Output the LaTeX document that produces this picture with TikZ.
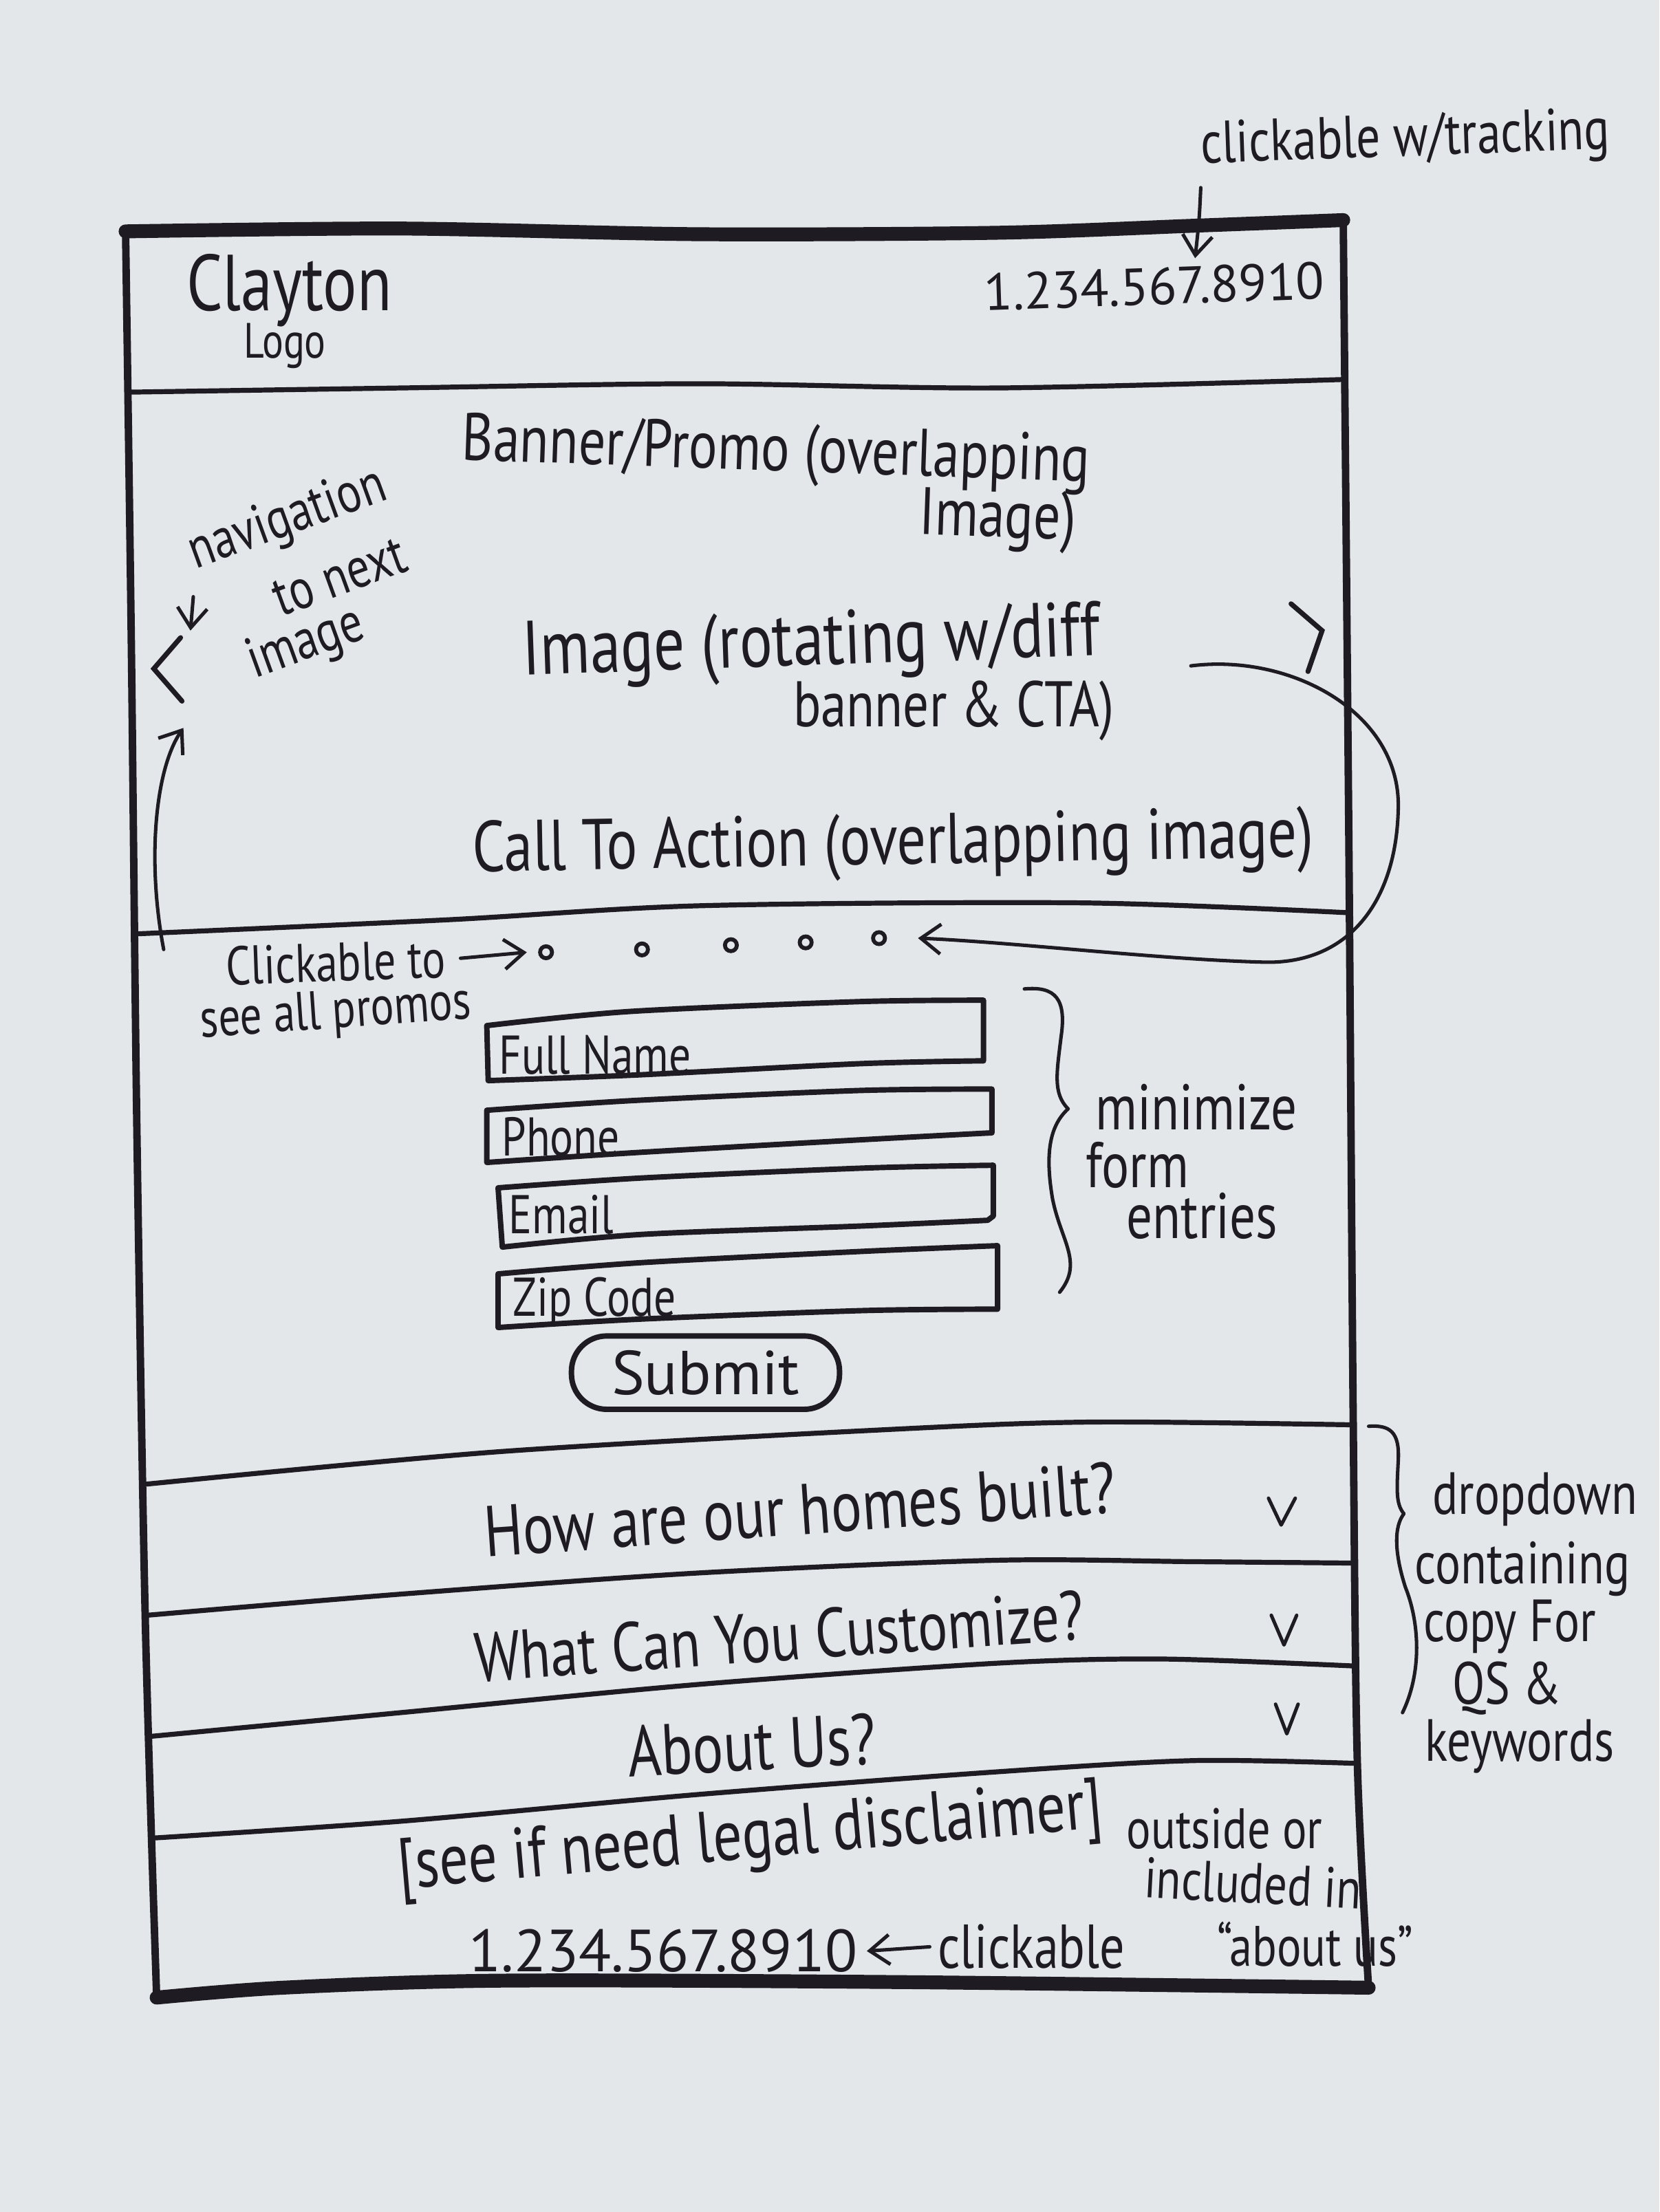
\documentclass[tikz,border=0pt]{standalone}
\usepackage{fontspec}
\setmainfont{PT Sans}[FakeStretch=0.8]
\newfontfamily\digitfont{PT Sans}
\usetikzlibrary{arrows.meta}
\definecolor{paper}{RGB}{227,231,234}
\definecolor{ink}{RGB}{30,28,34}
\newcommand\fs[1]{\fontsize{#1}{#1}\selectfont}
\tikzset{
  wall/.style={draw=ink, line width=1.5pt, line cap=round, line join=round},
  heavy/.style={draw=ink, line width=2.8pt, line cap=round},
  divider/.style={draw=ink, line width=1pt, line cap=round},
  pen/.style={draw=ink, line width=0.7pt, line cap=round, line join=round},
  field/.style={draw=ink, line width=1.1pt, line cap=round, line join=round},
  lbl/.style={text=ink, inner sep=0pt},
  barb/.style={-{Straight Barb[length=4pt,width=6pt]}},
  promo/.style={circle, draw=ink, line width=0.8pt, minimum size=2.4pt, inner sep=0pt},
}
\begin{document}
\begin{tikzpicture}[x=0.1mm,y=-0.1mm]
\fill[paper] (0,0) rectangle (1176,1568);
\useasboundingbox (0,0) rectangle (1176,1568);

% ---- phone outline ----
\draw[wall] plot[smooth] coordinates {(89,164) (93,450) (97,800) (103,1150) (111,1415)};
\draw[wall] plot[smooth] coordinates {(952,156) (956,600) (959,1000) (962,1250) (970,1410)};
\draw[heavy] plot[smooth] coordinates {(89,164) (284,162) (495,166) (706,165) (846,160) (952,156)};
\draw[heavy] plot[smooth] coordinates {(111,1416) (200,1409) (354,1404) (636,1405) (970,1409)};

% ---- header ----
\draw[divider] plot[smooth] coordinates {(90,278) (284,275) (495,272) (706,275) (952,269)};
\node[lbl, font=\fs{16}] (brand) at (205,206) {Clayton};
\node[lbl, font=\fs{10}] (brandsub) at (202,245) {Logo};
\node[lbl, font=\digitfont\fs{10.5}, rotate=2] (phonetop) at (818,203) {1.234.567.8910};
\node[lbl, font=\fs{12}, rotate=2] (track) at (996,100) {clickable w/tracking};
\coordinate (trackfoot) at (851,133);
\coordinate (phonehead) at (847,183);
\draw[pen, barb] (trackfoot) .. controls (850,155) .. (phonehead);

% ---- hero area ----
\node[lbl, font=\fs{13.5}, rotate=-2] (banner) at (550,322) {Banner/Promo (overlapping};
\node[lbl, font=\fs{13.5}, rotate=-2] (bannerend) at (707,369) {Image)};
\node[lbl, font=\fs{11.5}, rotate=20] (nav1) at (204,369) {navigation};
\node[lbl, font=\fs{11.5}, rotate=20] (nav2) at (241,409) {to next};
\node[lbl, font=\fs{11.5}, rotate=20] (nav3) at (217,457) {image};
\coordinate (navtail) at (137,423);
\coordinate (navhead) at (135,447);
\draw[pen, barb] (navtail) -- (navhead);
\draw[divider] (128,452) -- (109,474) -- (129,497);
\draw[divider] (915,428) -- (937,447) -- (927,476);
\node[lbl, font=\fs{15.5}, rotate=2] (hero) at (575,458) {Image (rotating w/diff};
\node[lbl, font=\fs{13}] (herosub) at (676,504) {banner \& CTA)};
\node[lbl, font=\fs{14.5}, rotate=1] (cta) at (633,600) {Call To Action (overlapping image)};
\draw[divider] plot[smooth] coordinates {(96,662) (317,652) (497,642) (767,640) (956,647)};

% ---- promo pager ----
\node[promo] (p1) at (387,675) {};
\node[promo] (p2) at (455,673) {};
\node[promo] (p3) at (518,670) {};
\node[promo] (p4) at (571,668) {};
\node[promo] (p5) at (623,665) {};
\node[lbl, font=\fs{11}, rotate=2] (clk) at (238,682) {Clickable to};
\node[lbl, font=\fs{11}, rotate=4] (promos) at (238,719) {see all promos};
\draw[pen, barb] ([xshift=1mm]clk.east) -- ([xshift=-0.8mm]p1.west);
\coordinate (pagerfoot) at (116,673);
\coordinate (navchevron) at (130,516);
\draw[pen, barb] (pagerfoot) .. controls (104,610) and (110,545) .. (navchevron);
\coordinate (loopstart) at (844,472);
\draw[pen, barb] (loopstart) .. controls (915,463) and (992,505) .. (991,572)
  .. controls (990,640) and (955,684) .. (895,682)
  .. controls (820,680) and (720,668) .. ([xshift=2.2mm]p5.east);

% ---- lead form ----
\draw[field] plot[smooth] coordinates {(345,727) (446,717) (609,710) (697,709)} -- (697,752)
  -- plot[smooth] coordinates {(694,752) (609,754) (451,762) (346,766)} -- cycle;
\draw[field] plot[smooth] coordinates {(345,787) (451,780) (609,773) (703,772)} -- (703,803)
  -- plot[smooth] coordinates {(703,803) (609,808) (451,817) (345,824)} -- cycle;
\draw[field] plot[smooth] coordinates {(353,842) (455,835) (612,828) (704,826)} -- (704,862)
  -- plot[smooth] coordinates {(700,865) (612,869) (455,875) (356,884)} -- cycle;
\draw[field] plot[smooth] coordinates {(353,903) (455,895) (612,887) (707,883)} -- (707,928)
  -- plot[smooth] coordinates {(707,928) (612,929) (455,935) (353,941)} -- cycle;
\node[lbl, font=\fs{11}, anchor=west] (fname) at (353,748) {Full Name};
\node[lbl, font=\fs{11}, anchor=west] (fphone) at (355,806) {Phone};
\node[lbl, font=\fs{11}, anchor=west] (femail) at (360,861) {Email};
\node[lbl, font=\fs{11}, anchor=west] (fzip) at (363,923) {Zip Code};
\node[draw=ink, line width=1.1pt, rounded corners=2.5mm, minimum width=19mm,
      minimum height=5.2mm, inner sep=0pt, text=ink, font=\digitfont\fs{12.5}] (submit) at (500,973) {Submit};
\draw[pen] (726,701) .. controls (748,699) and (756,708) .. (752,735)
  .. controls (749,760) and (746,775) .. (757,786)
  .. controls (745,797) and (740,815) .. (746,850)
  .. controls (752,880) and (768,895) .. (751,916);
\node[lbl, font=\fs{13}] (min1) at (848,785) {minimize};
\node[lbl, font=\fs{13}] (min2) at (806,826) {form};
\node[lbl, font=\fs{13}] (min3) at (852,862) {entries};

% ---- dropdown sections ----
\draw[divider] plot[smooth] coordinates {(104,1052) (354,1029) (636,1013) (776,1008) (959,1010)};
\draw[divider] plot[smooth] coordinates {(104,1145) (284,1130) (495,1115) (706,1106) (846,1107) (960,1108)};
\draw[divider] plot[smooth] coordinates {(105,1231) (284,1214) (495,1194) (706,1179) (824,1176) (961,1181)};
\draw[divider] plot[smooth] coordinates {(107,1303) (284,1291) (495,1272) (706,1256) (846,1248) (962,1250)};
\node[lbl, font=\fs{14.5}, rotate=4] (q1) at (567,1070) {How are our homes built?};
\node[lbl, font=\fs{14}, rotate=4] (q2) at (552,1160) {What Can You Customize?};
\node[lbl, font=\fs{14.5}, rotate=3] (q3) at (533,1237) {About Us?};
\draw[pen] (899,1062) -- (908,1081) -- (918,1062);
\draw[pen] (901,1145) -- (910,1166) -- (919,1145);
\draw[pen] (904,1208) -- (912,1229) -- (920,1208);
\draw[pen] (970,1011) .. controls (985,1010) and (992,1015) .. (991,1035)
  .. controls (990,1055) and (989,1066) .. (995,1073)
  .. controls (988,1082) and (988,1100) .. (996,1125)
  .. controls (1006,1150) and (1008,1185) .. (994,1214);
\node[lbl, font=\fs{12}] (dd1) at (1088,1063) {dropdown};
\node[lbl, font=\fs{12}] (dd2) at (1079,1112) {containing};
\node[lbl, font=\fs{12}] (dd3) at (1070,1153) {copy For};
\node[lbl, font=\fs{12}] (dd4) at (1068,1197) {QS \&};
\node[lbl, font=\fs{12}] (dd5) at (1077,1238) {keywords};

% ---- footer ----
\node[lbl, font=\fs{14.5}, rotate=5] (legal) at (532,1305) {[see if need legal disclaimer]};
\node[lbl, font=\fs{11.5}] (note1) at (868,1296) {outside or};
\node[lbl, font=\fs{11.5}, rotate=-3] (note2) at (888,1335) {included in};
\node[lbl, font=\fs{11.5}] (note3) at (932,1378) {``about us''};
\node[lbl, font=\digitfont\fs{12}] (phonebot) at (470,1383) {1.234.567.8910};
\node[lbl, font=\fs{12.5}] (clkbot) at (731,1380) {clickable};
\draw[pen, barb] ([xshift=-0.5mm]clkbot.west) -- ([xshift=0.6mm]phonebot.east);
\end{tikzpicture}
\end{document}
